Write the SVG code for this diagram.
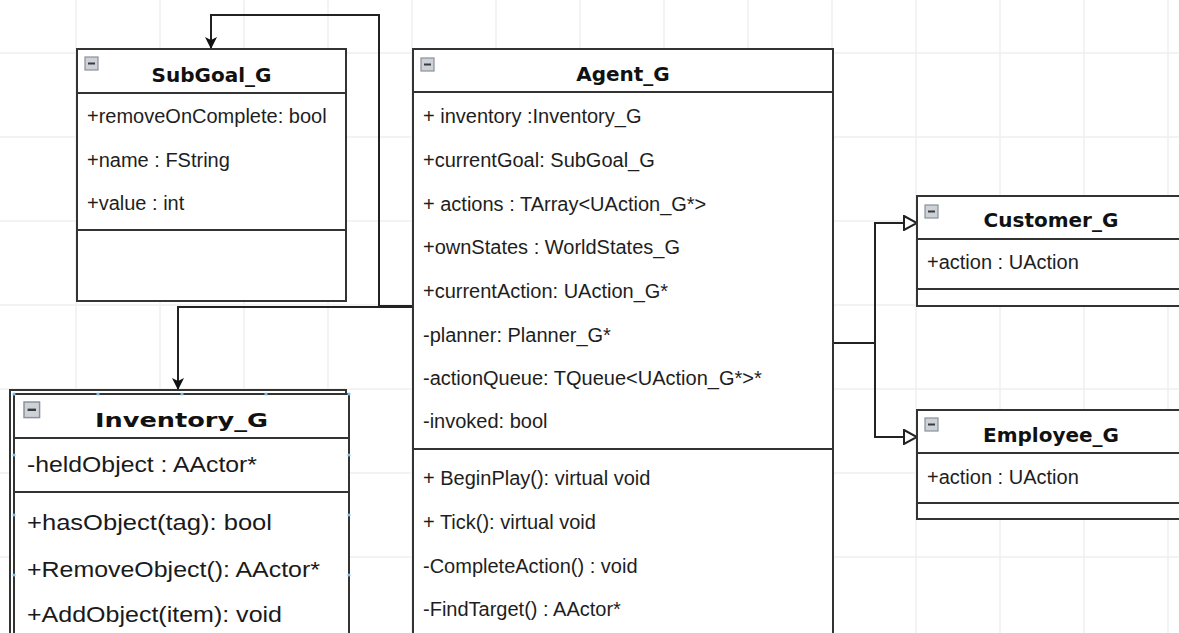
<svg xmlns="http://www.w3.org/2000/svg" width="1179" height="633" viewBox="0 0 1179 633">
  <style>
    .grid line { stroke: #efefef; stroke-width: 1.5; }
    .box { fill: #ffffff; stroke: #333333; stroke-width: 2; }
    .sep { stroke: #333333; stroke-width: 2; }
    .title { font-family: "DejaVu Sans", Verdana, sans-serif; font-weight: bold; font-size: 20px; text-anchor: middle; fill: #111111; }
    .attr { font-family: "Liberation Sans", Arial, sans-serif; font-size: 20px; fill: #1e1e1e; }
    .inv { font-family: "Liberation Sans", Arial, sans-serif; font-size: 21.5px; fill: #1a1a1a; }
    .wire { fill: none; stroke: #222222; stroke-width: 2; }
    .handle { fill: #7fbde6; }
  </style>
  <defs>
    <!-- collapse toggle shown in each class header -->
    <g id="toggle">
      <rect x="0" y="0" width="13" height="13" fill="#cdd1d8" stroke="#8a8f98" stroke-width="1.2"/>
      <line x1="3" y1="6.5" x2="10" y2="6.5" stroke="#3a3a3a" stroke-width="2"/>
    </g>
    <marker id="filled" viewBox="0 0 12 12" refX="12" refY="6" markerWidth="12" markerHeight="12" markerUnits="userSpaceOnUse" orient="auto">
      <path d="M0,0 L12,6 L0,12 L3,6 Z" fill="#111111"/>
    </marker>
    <marker id="hollow" viewBox="0 0 15 16" refX="14" refY="8" markerWidth="15" markerHeight="16" markerUnits="userSpaceOnUse" orient="auto">
      <path d="M1,1 L14,8 L1,15 Z" fill="#ffffff" stroke="#222222" stroke-width="2"/>
    </marker>
  </defs>

  <rect width="1179" height="633" fill="#ffffff"/>

  <!-- background grid -->
  <g class="grid">
    <line x1="76" y1="0" x2="76" y2="633"/>
    <line x1="160" y1="0" x2="160" y2="633"/>
    <line x1="244" y1="0" x2="244" y2="633"/>
    <line x1="328" y1="0" x2="328" y2="633"/>
    <line x1="412" y1="0" x2="412" y2="633"/>
    <line x1="496" y1="0" x2="496" y2="633"/>
    <line x1="580" y1="0" x2="580" y2="633"/>
    <line x1="664" y1="0" x2="664" y2="633"/>
    <line x1="748" y1="0" x2="748" y2="633"/>
    <line x1="832" y1="0" x2="832" y2="633"/>
    <line x1="916" y1="0" x2="916" y2="633"/>
    <line x1="1000" y1="0" x2="1000" y2="633"/>
    <line x1="1084" y1="0" x2="1084" y2="633"/>
    <line x1="1168" y1="0" x2="1168" y2="633"/>
    <line x1="0" y1="53" x2="1179" y2="53"/>
    <line x1="0" y1="137" x2="1179" y2="137"/>
    <line x1="0" y1="221" x2="1179" y2="221"/>
    <line x1="0" y1="305" x2="1179" y2="305"/>
    <line x1="0" y1="389" x2="1179" y2="389"/>
    <line x1="0" y1="473" x2="1179" y2="473"/>
    <line x1="0" y1="557" x2="1179" y2="557"/>
  </g>

  <!-- connectors -->
  <g id="connectors">
    <polyline class="wire" points="413,306 379,306 379,15 211,15 211,49" marker-end="url(#filled)"/>
    <polyline class="wire" points="413,307 178,307 178,390" marker-end="url(#filled)"/>
    <polyline class="wire" points="833,343 875,343 875,223 917,223" marker-end="url(#hollow)"/>
    <polyline class="wire" points="875,343 875,437 917,437" marker-end="url(#hollow)"/>
  </g>

  <!-- SubGoal_G -->
  <g id="subgoal">
    <rect class="box" x="77" y="49" width="269" height="252"/>
    <line class="sep" x1="77" y1="93" x2="346" y2="93"/>
    <line class="sep" x1="77" y1="230" x2="346" y2="230"/>
    <use href="#toggle" x="85" y="57"/>
    <text class="title" x="211.5" y="82">SubGoal_G</text>
    <text class="attr" x="87" y="123">+removeOnComplete: bool</text>
    <text class="attr" x="87" y="167">+name : FString</text>
    <text class="attr" x="87" y="210">+value : int</text>
  </g>

  <!-- Agent_G -->
  <g id="agent">
    <rect class="box" x="413" y="49" width="420" height="600"/>
    <line class="sep" x1="413" y1="92" x2="833" y2="92"/>
    <line class="sep" x1="413" y1="449" x2="833" y2="449"/>
    <use href="#toggle" x="421" y="58"/>
    <text class="title" x="623" y="81">Agent_G</text>
    <text class="attr" x="423" y="123">+ inventory :Inventory_G</text>
    <text class="attr" x="423" y="167">+currentGoal: SubGoal_G</text>
    <text class="attr" x="423" y="211">+ actions : TArray&lt;UAction_G*&gt;</text>
    <text class="attr" x="423" y="254">+ownStates  : WorldStates_G</text>
    <text class="attr" x="423" y="298">+currentAction: UAction_G*</text>
    <text class="attr" x="423" y="342">-planner: Planner_G*</text>
    <text class="attr" x="423" y="385">-actionQueue: TQueue&lt;UAction_G*&gt;*</text>
    <text class="attr" x="423" y="428">-invoked: bool</text>
    <text class="attr" x="423" y="485">+ BeginPlay(): virtual void</text>
    <text class="attr" x="423" y="529">+ Tick(): virtual void</text>
    <text class="attr" x="423" y="573">-CompleteAction() : void</text>
    <text class="attr" x="423" y="616">-FindTarget() : AActor*</text>
  </g>

  <!-- Inventory_G -->
  <g id="inventory">
    <rect class="box" x="10" y="390" width="336" height="260" stroke-width="1.5"/>
    <rect class="box" x="14" y="394" width="335" height="260"/>
    <line class="sep" x1="14" y1="438" x2="349" y2="438"/>
    <line class="sep" x1="14" y1="492" x2="349" y2="492"/>
    <use href="#toggle" x="24" y="402" transform="translate(24 402) scale(1.2) translate(-24 -402)"/>
    <text class="title" x="181.5" y="427" font-size="21.5" textLength="173" lengthAdjust="spacingAndGlyphs">Inventory_G</text>
    <text class="inv" x="27" y="472" textLength="230" lengthAdjust="spacingAndGlyphs">-heldObject : AActor*</text>
    <text class="inv" x="27" y="530" textLength="245" lengthAdjust="spacingAndGlyphs">+hasObject(tag): bool</text>
    <text class="inv" x="27" y="577" textLength="293" lengthAdjust="spacingAndGlyphs">+RemoveObject(): AActor*</text>
    <text class="inv" x="27" y="622" textLength="255" lengthAdjust="spacingAndGlyphs">+AddObject(item): void</text>
    <circle class="handle" cx="14" cy="394" r="1.6"/>
    <circle class="handle" cx="98" cy="394" r="1.6"/>
    <circle class="handle" cx="182" cy="394" r="1.6"/>
    <circle class="handle" cx="266" cy="394" r="1.6"/>
    <circle class="handle" cx="349" cy="394" r="1.6"/>
    <circle class="handle" cx="14" cy="455" r="1.6"/>
    <circle class="handle" cx="14" cy="515" r="1.6"/>
    <circle class="handle" cx="14" cy="575" r="1.6"/>
    <circle class="handle" cx="349" cy="455" r="1.6"/>
    <circle class="handle" cx="349" cy="515" r="1.6"/>
    <circle class="handle" cx="349" cy="575" r="1.6"/>
  </g>

  <!-- Customer_G -->
  <g id="customer">
    <rect class="box" x="917" y="196" width="280" height="110"/>
    <line class="sep" x1="917" y1="239" x2="1197" y2="239"/>
    <line class="sep" x1="917" y1="289" x2="1197" y2="289"/>
    <use href="#toggle" x="925" y="205"/>
    <text class="title" x="1051" y="227">Customer_G</text>
    <text class="attr" x="927" y="269">+action : UAction</text>
  </g>

  <!-- Employee_G -->
  <g id="employee">
    <rect class="box" x="917" y="410" width="280" height="109"/>
    <line class="sep" x1="917" y1="453" x2="1197" y2="453"/>
    <line class="sep" x1="917" y1="503" x2="1197" y2="503"/>
    <use href="#toggle" x="925" y="418"/>
    <text class="title" x="1051" y="442">Employee_G</text>
    <text class="attr" x="927" y="484">+action : UAction</text>
  </g>
</svg>
